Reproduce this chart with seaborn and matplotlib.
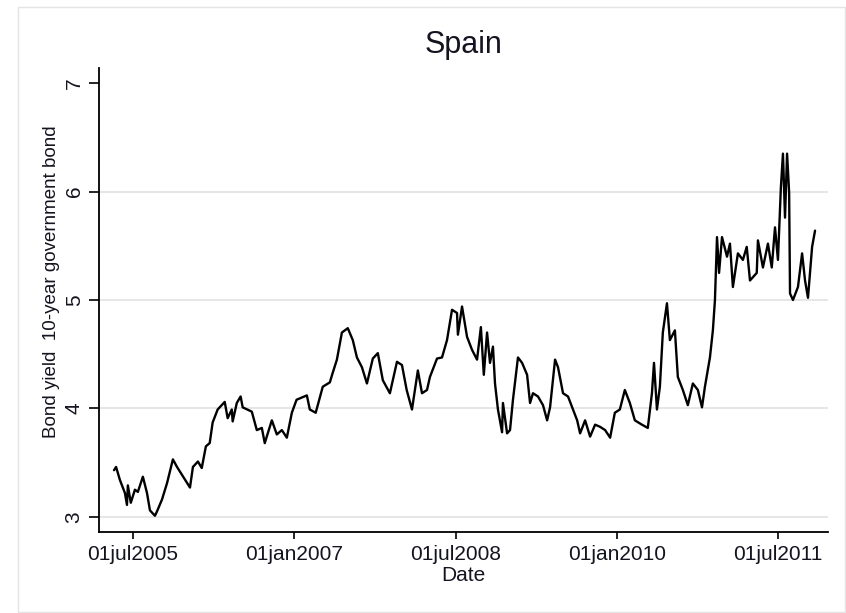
import matplotlib
matplotlib.use("Agg")
import matplotlib.pyplot as plt
from matplotlib.patches import Rectangle
import pandas as pd
import seaborn as sns

# ---- data ----
dates = [
    "2005-04-28", "2005-05-05", "2005-05-18", "2005-06-04", "2005-06-11", "2005-06-14", "2005-06-24",
    "2005-07-08", "2005-07-18", "2005-08-04", "2005-08-18", "2005-08-28", "2005-09-14", "2005-09-21",
    "2005-10-08", "2005-10-25", "2005-11-14", "2005-11-28", "2005-12-26", "2006-01-11", "2006-01-21",
    "2006-02-07", "2006-02-20", "2006-03-06", "2006-03-19", "2006-03-29", "2006-04-15", "2006-05-09",
    "2006-05-19", "2006-06-02", "2006-06-05", "2006-06-19", "2006-07-02", "2006-07-09", "2006-08-09",
    "2006-08-26", "2006-09-12", "2006-09-22", "2006-10-16", "2006-11-02", "2006-11-19", "2006-12-06",
    "2006-12-23", "2007-01-08", "2007-02-12", "2007-02-22", "2007-03-14", "2007-04-07", "2007-05-01",
    "2007-05-11", "2007-05-25", "2007-06-11", "2007-07-01", "2007-07-18", "2007-08-01", "2007-08-18",
    "2007-09-04", "2007-09-24", "2007-10-11", "2007-10-28", "2007-11-21", "2007-12-15", "2008-01-01",
    "2008-01-17", "2008-02-04", "2008-02-24", "2008-03-09", "2008-03-26", "2008-04-05", "2008-04-29",
    "2008-05-16", "2008-06-02", "2008-06-19", "2008-07-06", "2008-07-09", "2008-07-23", "2008-08-09",
    "2008-08-26", "2008-09-12", "2008-09-25", "2008-10-05", "2008-10-16", "2008-10-26", "2008-11-05",
    "2008-11-12", "2008-11-22", "2008-12-06", "2008-12-09", "2008-12-23", "2009-01-02", "2009-01-12",
    "2009-01-29", "2009-02-12", "2009-03-01", "2009-03-11", "2009-03-21", "2009-04-07", "2009-04-24",
    "2009-05-08", "2009-05-18", "2009-06-04", "2009-06-14", "2009-07-01", "2009-07-18", "2009-08-04",
    "2009-08-18", "2009-08-28", "2009-09-14", "2009-10-01", "2009-10-18", "2009-11-04", "2009-11-21",
    "2009-12-08", "2009-12-24", "2010-01-10", "2010-01-27", "2010-02-13", "2010-03-02", "2010-03-26",
    "2010-04-15", "2010-04-29", "2010-05-06", "2010-05-16", "2010-05-26", "2010-06-05", "2010-06-19",
    "2010-06-29", "2010-07-16", "2010-07-26", "2010-08-12", "2010-08-29", "2010-09-15", "2010-10-02",
    "2010-10-16", "2010-10-26", "2010-11-12", "2010-11-22", "2010-11-29", "2010-12-06", "2010-12-13",
    "2010-12-23", "2011-01-09", "2011-01-19", "2011-01-29", "2011-02-15", "2011-03-04", "2011-03-17",
    "2011-03-28", "2011-04-20", "2011-04-24", "2011-05-11", "2011-05-28", "2011-06-10", "2011-06-21",
    "2011-07-01", "2011-07-11", "2011-07-18", "2011-07-25", "2011-08-01", "2011-08-08", "2011-08-11",
    "2011-08-21", "2011-09-07", "2011-09-21", "2011-10-01", "2011-10-11", "2011-10-25", "2011-11-04",
]
yields = [
    3.43, 3.46, 3.34, 3.22, 3.11, 3.29, 3.13,
    3.25, 3.23, 3.37, 3.22, 3.06, 3.01, 3.05,
    3.16, 3.31, 3.53, 3.46, 3.34, 3.27, 3.46,
    3.51, 3.45, 3.65, 3.68, 3.87, 3.99, 4.06,
    3.91, 3.99, 3.88, 4.05, 4.11, 4.01, 3.97,
    3.80, 3.82, 3.68, 3.89, 3.76, 3.80, 3.73,
    3.96, 4.08, 4.12, 3.99, 3.96, 4.20, 4.24,
    4.33, 4.45, 4.70, 4.74, 4.63, 4.47, 4.38,
    4.23, 4.46, 4.51, 4.26, 4.14, 4.43, 4.40,
    4.17, 3.99, 4.35, 4.14, 4.17, 4.29, 4.46,
    4.47, 4.63, 4.91, 4.88, 4.68, 4.94, 4.66,
    4.54, 4.45, 4.75, 4.31, 4.70, 4.42, 4.57,
    4.23, 3.99, 3.78, 4.05, 3.77, 3.80, 4.08,
    4.47, 4.42, 4.31, 4.05, 4.14, 4.11, 4.03,
    3.89, 4.01, 4.45, 4.38, 4.14, 4.11, 3.99,
    3.89, 3.77, 3.89, 3.74, 3.85, 3.83, 3.80,
    3.73, 3.96, 3.99, 4.17, 4.05, 3.89, 3.85,
    3.82, 4.14, 4.42, 3.99, 4.20, 4.70, 4.97,
    4.63, 4.72, 4.29, 4.17, 4.03, 4.23, 4.17,
    4.01, 4.20, 4.47, 4.72, 5.00, 5.58, 5.25,
    5.58, 5.40, 5.52, 5.12, 5.43, 5.37, 5.49,
    5.18, 5.25, 5.55, 5.30, 5.52, 5.30, 5.67,
    5.37, 6.04, 6.35, 5.76, 6.35, 5.99, 5.06,
    5.00, 5.12, 5.43, 5.18, 5.02, 5.49, 5.64,
]
x_tick_dates = ["2005-07-01", "2007-01-01", "2008-07-01", "2010-01-01", "2011-07-01"]
x_tick_labels = ["01jul2005", "01jan2007", "01jul2008", "01jan2010", "01jul2011"]
y_ticks = [3, 4, 5, 6, 7]
grid_levels = [3, 4, 5, 6]
title = "Spain"
x_title = "Date"
y_title = "Bond yield  10-year government bond"

df = pd.DataFrame({"date": pd.to_datetime(dates), "yield": yields})

sns.set_style("white")
plt.rcParams["font.family"] = ["Liberation Sans", "DejaVu Sans"]
text_color = "#141420"

W, H = 846, 613
fig = plt.figure(figsize=(W / 100, H / 100), dpi=100)
ax = fig.add_axes([99 / W, 1 - 532 / H, (828 - 99) / W, (532 - 68) / H])

for g in grid_levels:
    ax.axhline(g, color="#e6e6e6", lw=1.4, zorder=0)

sns.lineplot(data=df, x="date", y="yield", color="black", lw=1.7,
             estimator=None, ax=ax, zorder=3)

ax.set_xlim(pd.Timestamp("2005-03-08"), pd.Timestamp("2011-12-18"))
ax.set_ylim(2.86, 7.14)
ax.set_xticks(pd.to_datetime(x_tick_dates))
ax.set_xticklabels(x_tick_labels, fontsize=15, color=text_color)
ax.set_yticks(y_ticks)
ax.set_yticklabels([str(v) for v in y_ticks], fontsize=15, rotation=90,
                   va="center", color=text_color)

ax.tick_params(axis="x", direction="out", length=5, width=1.2, pad=4,
               bottom=True, color="black")
ax.tick_params(axis="y", direction="out", length=7, width=1.2, pad=4,
               left=True, color="black")

for s in ["top", "right"]:
    ax.spines[s].set_visible(False)
for s in ["left", "bottom"]:
    ax.spines[s].set_color("black")
    ax.spines[s].set_linewidth(1.3)

ax.set_xlabel(x_title, fontsize=15, color=text_color, labelpad=2)
ax.set_ylabel(y_title, fontsize=13.5, color=text_color)
ax.yaxis.set_label_coords((60 - 99) / (828 - 99), (532 - 282) / (532 - 68))
ax.set_title(title, fontsize=22, color=text_color, pad=11)

fig.patches.append(Rectangle((18 / W, 1 - 612 / H), (845 - 18) / W, (612 - 7) / H,
                             transform=fig.transFigure, fill=False,
                             edgecolor="#e4e4e4", lw=1.0))

fig.savefig("out.png", dpi=100, facecolor="white")
